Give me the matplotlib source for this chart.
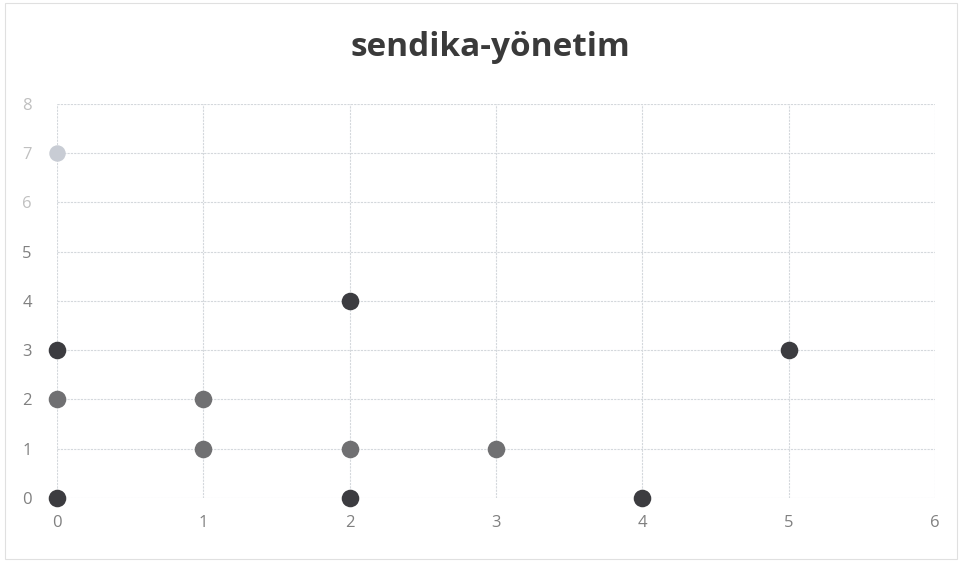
import matplotlib.pyplot as plt
from matplotlib.patches import Rectangle

# scatter points (x, y)
dark_x = [0, 0, 2, 2, 4, 5]
dark_y = [3, 0, 4, 0, 0, 3]
mid_x = [0, 1, 1, 2, 3]
mid_y = [2, 2, 1, 1, 1]
faint_x = [0]
faint_y = [7]

x_ticks = [0, 1, 2, 3, 4, 5, 6]
y_ticks = [0, 1, 2, 3, 4, 5, 6, 7, 8]


def main():
    plt.rcParams["font.family"] = ["Open Sans", "DejaVu Sans"]
    fig = plt.figure(figsize=(9.62, 5.62), dpi=100)
    ax = fig.add_axes([0.059, 0.114, 0.913, 0.701])

    ax.scatter(dark_x, dark_y, s=160, color="#3c3c40", zorder=3, linewidths=0)
    ax.scatter(mid_x, mid_y, s=160, color="#707072", zorder=3, linewidths=0)
    ax.scatter(faint_x, faint_y, s=140, color="#c8ccd4", zorder=3, linewidths=0)

    ax.set_xlim(0, 6)
    ax.set_ylim(0, 8)
    ax.set_xticks(x_ticks)
    ax.set_yticks(y_ticks)
    ax.grid(True, color="#d4d8dc", linewidth=0.8, linestyle=(0, (2, 1)))
    ax.set_axisbelow(True)
    for s in ax.spines.values():
        s.set_visible(False)
    ax.tick_params(length=0, colors="#808080", labelsize=12)
    ax.tick_params(axis="y", pad=18)
    ax.tick_params(axis="x", pad=12)
    for lbl in ax.get_yticklabels()[6:]:
        lbl.set_color("#c0c0c0")
    for c in ax.collections:
        c.set_clip_on(False)

    fig.text(0.51, 0.915, "sendika-yönetim", ha="center", va="center",
             fontsize=24, fontweight="bold", color="#3a3a3a")
    fig.patches.append(Rectangle((0.005, 0.005), 0.99, 0.99, transform=fig.transFigure,
                                 fill=False, edgecolor="#e0e0e0", linewidth=0.8))

    fig.savefig("out.png", dpi=100)


if __name__ == "__main__":
    main()
